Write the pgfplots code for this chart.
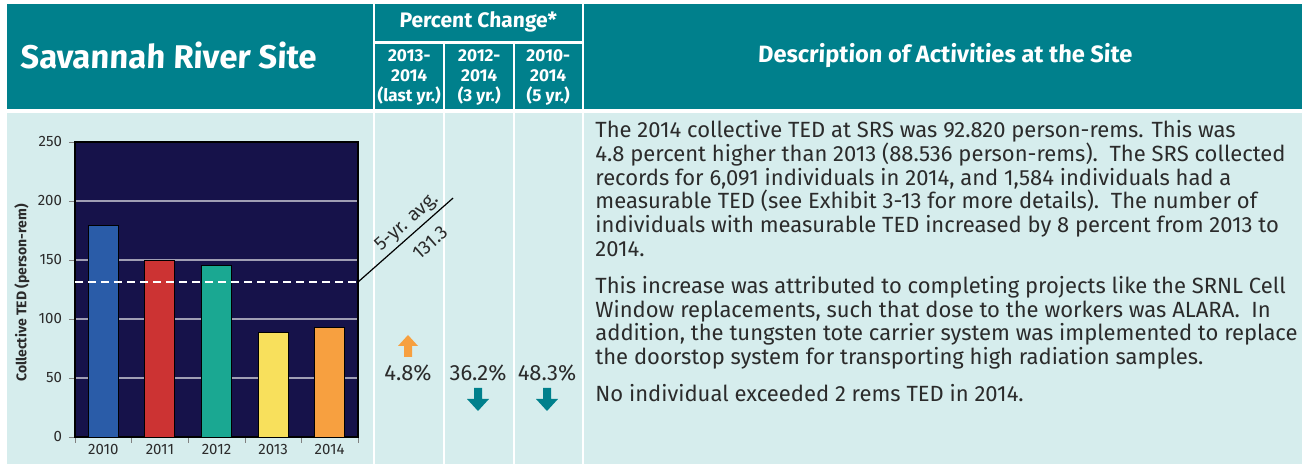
\documentclass[border=0pt]{standalone}
\usepackage{pgfplots}
\pgfplotsset{compat=1.18}
\usepackage{fontspec}
\setmainfont{Fira Sans}
\newfontfamily\hdfont[FakeSlant=0.04]{Fira Sans}
\definecolor{hdteal}{HTML}{00808C}
\definecolor{bodybg}{HTML}{D6EDED}
\definecolor{navy}{HTML}{16124A}
\definecolor{b10}{HTML}{2A5CA8}
\definecolor{b11}{HTML}{CC3333}
\definecolor{b12}{HTML}{1AA892}
\definecolor{b13}{HTML}{F8E05C}
\definecolor{b14}{HTML}{F7A040}
\definecolor{txt}{HTML}{2B2B2B}
\definecolor{gridc}{HTML}{A09EB4}

\begin{document}
\begin{tikzpicture}
\begin{scope}[x=0.5pt,y=-0.5pt,yshift=232pt]
  \fill[white] (0,0) rectangle (1303,464);
  % header cells
  \fill[hdteal] (7,4) rectangle (373,109);
  \fill[hdteal] (375,4) rectangle (582,41);
  \fill[hdteal] (375,44) rectangle (443,109);
  \fill[hdteal] (445,44) rectangle (513,109);
  \fill[hdteal] (515,44) rectangle (582,109);
  \fill[hdteal] (584,4) rectangle (1302,109);
  % body cells
  \fill[bodybg] (7,113) rectangle (373,464);
  \fill[bodybg] (375,113) rectangle (443,464);
  \fill[bodybg] (445,113) rectangle (513,464);
  \fill[bodybg] (515,113) rectangle (582,464);
  \fill[bodybg] (584,113) rectangle (1302,464);
  % header texts
  \node[white, anchor=west, inner sep=0pt, font=\hdfont\bfseries\fontsize{16.4}{18}\selectfont] at (20,55) {Savannah River Site};
  \node[white, font=\hdfont\bfseries\fontsize{10.5}{12}\selectfont] at (478,22) {Percent Change*};
  \node[white, align=center, inner sep=0pt, font=\hdfont\bfseries\fontsize{8.6}{10}\selectfont] at (409,77) {2013-\\2014\\(last yr.)};
  \node[white, align=center, inner sep=0pt, font=\hdfont\bfseries\fontsize{8.6}{10}\selectfont] at (479,77) {2012-\\2014\\(3 yr.)};
  \node[white, align=center, inner sep=0pt, font=\hdfont\bfseries\fontsize{8.6}{10}\selectfont] at (548,77) {2010-\\2014\\(5 yr.)};
  \node[white, font=\hdfont\bfseries\fontsize{11.8}{13}\selectfont] at (945,56) {Description of Activities at the Site};
  % percent changes
  \node[txt, font=\fontsize{11}{12}\selectfont] at (408,373) {4.8\%};
  \node[txt, font=\fontsize{11}{12}\selectfont] at (478,373) {36.2\%};
  \node[txt, font=\fontsize{11}{12}\selectfont] at (547,373) {48.3\%};
  \fill[b14] (408,335) -- (418,346) -- (412,346) -- (412,357) -- (404,357) -- (404,346) -- (398,346) -- cycle;
  \fill[hdteal] (478,411) -- (467,399) -- (474,399) -- (474,388) -- (482,388) -- (482,399) -- (489,399) -- cycle;
  \fill[hdteal] (547,411) -- (536,399) -- (543,399) -- (543,388) -- (551,388) -- (551,399) -- (558,399) -- cycle;
  % description
  \node[txt, anchor=north west, align=left, inner sep=0pt, font=\fontsize{11}{11.9}\selectfont] at (595,120) {%
    The 2014 collective TED at SRS was 92.820 person-rems. This was\\
    4.8 percent higher than 2013 (88.536 person-rems).\ \ The SRS collected\\
    records for 6,091 individuals in 2014, and 1,584 individuals had a\\
    measurable TED (see Exhibit 3-13 for more details).\ \ The number of\\
    individuals with measurable TED increased by 8 percent from 2013 to\\
    2014.\\[6.5pt]
    This increase was attributed to completing projects like the SRNL Cell\\
    Window replacements, such that dose to the workers was ALARA.\ \ In\\
    addition, the tungsten tote carrier system was implemented to replace\\
    the doorstop system for transporting high radiation samples.\\[6.5pt]
    No individual exceeded 2 rems TED in 2014.};
  \node[rotate=90, text=txt, font=\bfseries\fontsize{7}{8}\selectfont] at (22,293) {Collective TED (person-rem)};
\end{scope}
\begin{axis}[
    at={(37.5pt,13.5pt)}, anchor=south west,
    scale only axis, width=141.5pt, height=147.5pt,
    xmin=-0.5, xmax=4.5, ymin=0, ymax=250,
    ytick={0,50,...,250},
    xtick={-0.5,0.5,...,4.5}, xticklabels={},
    extra x ticks={0,1,2,3,4},
    extra x tick labels={2010,2011,2012,2013,2014},
    extra x tick style={major tick length=0pt, grid=none},
    tick pos=left, tick align=outside, major tick length=3pt,
    ymajorgrids, grid style={gridc, line width=0.8pt},
    axis background/.style={fill=navy},
    axis line style={black, line width=0.6pt},
    ticklabel style={font=\fontsize{7.5}{8}\selectfont, text=txt},
    /pgf/number format/assume math mode=true,
    ybar, bar width=15pt, bar shift=0pt,
    clip=false,
]
\addplot[fill=b10, draw=black, line width=0.4pt] coordinates {(0,179.6)};
\addplot[fill=b11, draw=black, line width=0.4pt] coordinates {(1,149.7)};
\addplot[fill=b12, draw=black, line width=0.4pt] coordinates {(2,145.3)};
\addplot[fill=b13, draw=black, line width=0.4pt] coordinates {(3,88.536)};
\addplot[fill=b14, draw=black, line width=0.4pt] coordinates {(4,92.820)};
\addplot[sharp plot, white, line width=1pt, dash pattern=on 4pt off 2.5pt] coordinates {(-0.5,131.3) (4.5,131.3)};
\addplot[sharp plot, black, line width=0.6pt] coordinates {(4.5,131.3) (6.18,202.5)}
  node[pos=0.6, sloped, above, inner sep=1.5pt, text=txt, font=\fontsize{9.5}{11}\selectfont] {5-yr. avg.}
  node[pos=0.63, sloped, below, inner sep=5.5pt, text=txt, font=\fontsize{9.5}{11}\selectfont] {131.3};
\end{axis}
\end{tikzpicture}
\end{document}
